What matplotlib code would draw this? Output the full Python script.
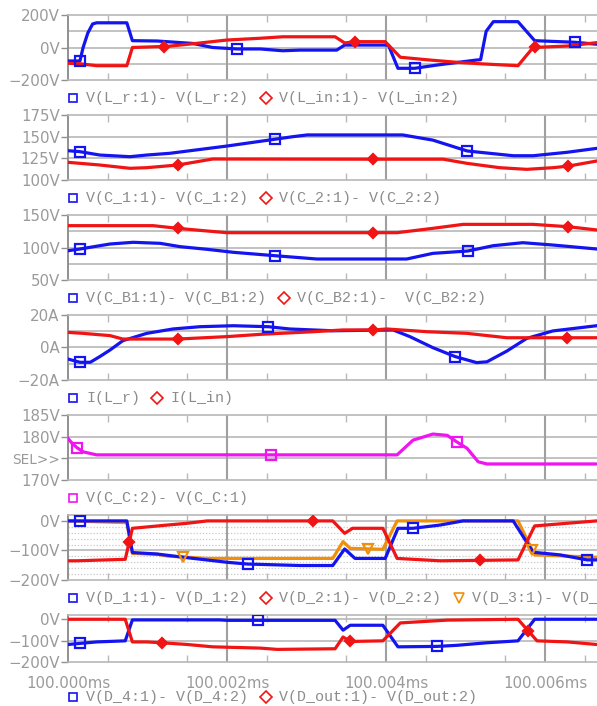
import matplotlib.pyplot as plt
import numpy as np
from matplotlib.lines import Line2D

# time is in microseconds after 100.000 ms
t_max = 6.654

# panel 1: V(L_r), V(L_in)
lr_t = [0.00, 0.15, 0.19, 0.25, 0.31, 0.36, 0.74, 0.81, 1.12, 1.57, 1.82, 2.13, 2.42, 2.70, 2.92,
        3.38, 3.48, 4.03, 4.15, 4.36, 4.64, 4.93, 5.14, 5.19, 5.26, 5.35, 5.66, 5.87, 6.38, 6.65]
lr_v = [-83, -83, 0, 90, 145, 152, 152, 42, 40, 25, 0, -9, -9, -20, -16,
        -16, 15, 15, -128, -128, -108, -90, -77, -75, 100, 159, 159, 42, 32, 20]
lin_t = [0.00, 0.15, 0.36, 0.74, 0.81, 1.12, 1.21, 1.57, 2.00, 2.42, 2.70, 3.36, 3.48, 3.61, 3.99,
         4.18, 4.55, 4.89, 5.22, 5.66, 5.85, 6.28, 6.65]
lin_v = [-97, -100, -112, -112, 0, 5, 5, 23, 46, 57, 66, 66, 28, 36, 36,
         -60, -77, -91, -101, -112, 0, 9, 30]
lr_mk = [0.15, 2.13, 4.36, 6.38]
lin_mk = [1.21, 3.61, 5.87]

# panel 2: V(C_1), V(C_2)
c1_t = [0.00, 0.15, 0.40, 0.78, 0.99, 1.28, 2.00, 2.60, 2.83, 3.01, 4.21, 4.59, 5.02, 5.60, 5.85, 6.28, 6.65]
c1_v = [133.8, 132.7, 128.8, 126.9, 128.8, 130.8, 139.2, 147, 150, 152, 152, 146, 133.5, 128, 128, 132, 136.5]
c2_t = [0.00, 0.40, 0.78, 0.99, 1.38, 1.82, 3.84, 4.72, 5.02, 5.43, 5.77, 6.10, 6.29, 6.65]
c2_v = [120.4, 117.3, 113.5, 114.2, 117.3, 124.2, 124, 124, 119.2, 114.2, 112.3, 114.2, 116, 121.9]
c1_mk = [0.15, 2.60, 5.02]
c2_mk = [1.38, 3.84, 6.29]

# panel 3: V(C_B1), V(C_B2)
cb1_t = [0.00, 0.15, 0.53, 0.82, 1.16, 1.41, 1.75, 2.08, 2.60, 3.13, 4.26, 4.59, 5.03, 5.35, 5.72, 6.10, 6.65]
cb1_v = [95, 97.7, 105.4, 108, 106.4, 101.3, 97.2, 92.6, 87.4, 82.3, 82.3, 91, 94.6, 102.8, 107.4, 103.8, 97.7]
cb2_t = [0.00, 1.07, 1.38, 1.75, 2.00, 4.14, 4.59, 4.97, 5.85, 6.29, 6.65]
cb2_v = [133.6, 133.6, 129.5, 125.4, 122.8, 122.8, 129.5, 135.6, 135.6, 132, 127]
cb1_mk = [0.15, 2.60, 5.03]
cb2_mk = [1.38, 3.84, 6.29]

# panel 4: I(L_r), I(L_in)
ilr_t = [0.00, 0.15, 0.28, 0.40, 0.53, 0.69, 0.99, 1.32, 1.66, 2.08, 2.52, 2.79, 3.33, 4.09, 4.30,
         4.59, 4.87, 5.14, 5.27, 5.52, 5.77, 6.10, 6.65]
ilr_v = [-7.1, -9.1, -9.1, -5.6, -1.5, 4.2, 8.7, 11.4, 12.8, 13.4, 12.8, 11.4, 10.3, 10.8, 6.7,
         -0.1, -5.6, -9.3, -8.8, -2.2, 5.6, 10.2, 13.4]
ilin_t = [0.00, 0.19, 0.53, 0.69, 1.38, 2.00, 2.42, 3.08, 3.46, 3.84, 4.01, 4.52, 5.02, 5.52, 6.65]
ilin_v = [9.3, 8.7, 7.3, 5.2, 5.2, 6.7, 8.1, 9.7, 10.8, 10.8, 11.4, 9.7, 8.7, 6.0, 6.0]
ilr_mk = [0.15, 2.52, 4.87]
ilin_mk = [1.38, 3.84, 6.28]

# panel 5: V(C_C)
cc_t = [0.00, 0.05, 0.11, 0.19, 0.36, 4.14, 4.34, 4.59, 4.77, 4.89, 5.02, 5.16, 5.27, 6.65]
cc_v = [179.6, 178.5, 177.5, 176.5, 175.8, 175.8, 179.2, 180.6, 180.3, 178.8, 177.3, 174.2, 173.7, 173.7]
cc_mk = [0.11, 2.55, 4.89]

# panel 6: V(D_1), V(D_2), V(D_3)
d1_t = [0.00, 0.74, 0.81, 1.12, 1.45, 2.00, 2.26, 2.92, 3.33, 3.48, 3.61, 3.99, 4.15, 4.34, 4.68,
        4.97, 5.60, 5.85, 6.19, 6.53, 6.65]
d1_v = [0, 0, -107, -112, -123, -140, -146, -151, -151, -95, -127, -127, -25, -25, -14,
        0, 0, -106, -115, -132, -132]
d2_t = [0.00, 0.11, 0.72, 0.81, 1.25, 1.50, 1.75, 3.33, 3.48, 3.58, 3.96, 4.14, 4.68, 5.66, 5.87, 6.28, 6.65]
d2_v = [-135, -135, -130, -25, -14, -8, 0, 0, -42, -25, -25, -127, -135, -132, -17, -8, 0]
d3_t = [0.00, 0.74, 0.81, 1.12, 1.25, 1.75, 3.33, 3.46, 3.55, 3.96, 4.14, 5.66, 5.87, 6.65]
d3_v = [0, -6, -110, -113, -119, -127, -127, -70, -93, -96, 0, 0, -115, -123]
d1_mk = [0.15, 2.26, 4.34, 6.53]
d2_mk = [0.77, 3.08, 5.18]
d3_mk = [1.45, 3.77, 5.84]

# panel 7: V(D_4), V(D_out)
d4_t = [0.00, 0.15, 0.36, 0.72, 0.81, 1.91, 2.00, 2.39, 2.92, 3.36, 3.46, 3.55, 3.96, 4.15, 4.64,
        4.89, 5.27, 5.66, 5.87, 6.65]
d4_v = [-118, -113, -106, -101, -3, -3, -5, -5, -5, -5, -51, -28, -28, -129, -127,
        -122, -110, -101, 0, 0]
dout_t = [0.00, 0.72, 0.81, 0.99, 1.18, 1.50, 1.82, 2.42, 2.63, 3.36, 3.46, 3.55, 3.96, 4.18, 4.77,
          5.66, 5.90, 6.28, 6.65]
dout_v = [0, 0, -106, -106, -110, -118, -129, -135, -141, -138, -83, -104, -101, -17, -4,
          0, -101, -106, -118]
d4_mk = [0.15, 2.39, 4.64]
dout_mk = [1.18, 3.55, 5.79]

x_ticks = [0, 2, 4, 6]
x_labels = ["100.000ms", "100.002ms", "100.004ms", "100.006ms"]

BLUE = '#1414f0'
RED = '#f01414'
MAG = '#f014f0'
ORA = '#f0900a'
GRID = '#b8b8b8'
TXT = '#9a9a9a'
LEG = '#8c8c8c'

W, H = 597, 706
fig = plt.figure(figsize=(W / 100, H / 100), dpi=100)

def make_axes(top, bottom, ylim, grid, labels, minor=None):
    ax = fig.add_axes([68 / W, 1 - bottom / H, (W - 68) / W, (bottom - top) / H])
    ax.set_xlim(0, t_max)
    ax.set_ylim(*ylim)
    for s in ['top', 'bottom']:
        ax.spines[s].set_color(GRID)
        ax.spines[s].set_linewidth(1.2)
    ax.spines['left'].set_color('#909090')
    ax.spines['left'].set_linewidth(1.4)
    ax.spines['right'].set_visible(False)
    for g in grid:
        ax.axhline(g, color=GRID, lw=1.2, zorder=1)
    if minor:
        for g in minor:
            ax.axhline(g, color='#c8c8c8', lw=0.9, ls=(0, (1, 1.5)), zorder=1)
    for xv in x_ticks[1:]:
        ax.axvline(xv, color='#a0a0a0', lw=1.5, zorder=1)
    ax.set_yticks(list(labels.keys()))
    ax.set_yticklabels(list(labels.values()))
    ax.tick_params(axis='y', direction='out', length=5, width=1, color='#909090',
                   labelsize=10.8, labelcolor=TXT, pad=1)
    ax.set_xticks(x_ticks)
    ax.set_xticks(np.arange(0.5, t_max, 1.0), minor=True)
    ax.tick_params(axis='x', which='both', direction='in', length=5, width=1, color=GRID,
                   top=True, bottom=True, labelbottom=False)
    ax.tick_params(axis='x', which='major', length=0)
    return ax

def trace(ax, t, v, mk, color, marker, ms, filled=False):
    ax.plot(t, v, color=color, lw=2.3, zorder=3, solid_joinstyle='round')
    ax.plot(mk, np.interp(mk, t, v), ls='none', marker=marker, ms=ms,
            mec=color, mfc=color if filled else 'none', mew=1.6, zorder=4)

def legend(y, items):
    x = 73
    for marker, color, text in items:
        fig.add_artist(Line2D([x / W], [1 - y / H], transform=fig.transFigure, marker=marker,
                              ms=6 if marker == 's' else 6.5, mec=color, mfc='none', mew=1.2, ls='none'))
        fig.text((x + 13) / W, 1 - y / H, text, ha='left', va='center', color=LEG,
                 fontfamily='Liberation Mono', fontsize=10.8)
        x = x + 13 + len(text) * 9.05 + 17

# panel 1
ax1 = make_axes(15, 80, (-200, 200), [-100, 0, 100], {200: '200V', 0: '0V', -200: '\u2212200V'})
trace(ax1, lr_t, lr_v, lr_mk, BLUE, 's', 6.5)
trace(ax1, lin_t, lin_v, lin_mk, RED, 'D', 5, True)
legend(98, [('s', BLUE, 'V(L_r:1)- V(L_r:2)'), ('D', RED, 'V(L_in:1)- V(L_in:2)')])

# panel 2
ax2 = make_axes(115, 180, (100, 175), [125, 150], {175: '175V', 150: '150V', 125: '125V', 100: '100V'})
trace(ax2, c1_t, c1_v, c1_mk, BLUE, 's', 6.5)
trace(ax2, c2_t, c2_v, c2_mk, RED, 'D', 5, True)
legend(198, [('s', BLUE, 'V(C_1:1)- V(C_1:2)'), ('D', RED, 'V(C_2:1)- V(C_2:2)')])

# panel 3
ax3 = make_axes(215, 280, (50, 150), [75, 100, 125], {150: '150V', 100: '100V', 50: '50V'})
trace(ax3, cb1_t, cb1_v, cb1_mk, BLUE, 's', 6.5)
trace(ax3, cb2_t, cb2_v, cb2_mk, RED, 'D', 5, True)
legend(298, [('s', BLUE, 'V(C_B1:1)- V(C_B1:2)'), ('D', RED, 'V(C_B2:1)-  V(C_B2:2)')])

# panel 4
ax4 = make_axes(315, 380, (-20, 20), [-10, 0, 10], {20: '20A', 0: '0A', -20: '\u221220A'})
trace(ax4, ilr_t, ilr_v, ilr_mk, BLUE, 's', 6.5)
trace(ax4, ilin_t, ilin_v, ilin_mk, RED, 'D', 5, True)
legend(398, [('s', BLUE, 'I(L_r)'), ('D', RED, 'I(L_in)')])

# panel 5
ax5 = make_axes(415, 480, (170, 185), [175, 180], {185: '185V', 180: '180V', 175: 'SEL>>', 170: '170V'})
trace(ax5, cc_t, cc_v, cc_mk, MAG, 's', 6.5)
ax5.get_yticklabels()[2].set_fontsize(9.8)
legend(498, [('s', MAG, 'V(C_C:2)- V(C_C:1)')])

# panel 6
ax6 = make_axes(515, 580, (-200, 20), [-100, 0], {0: '0V', -100: '\u2212100V', -200: '\u2212200V'},
                minor=[-180, -160, -140, -120, -80, -60, -40, -20])
trace(ax6, d3_t, d3_v, d3_mk, ORA, 'v', 6.5)
trace(ax6, d1_t, d1_v, d1_mk, BLUE, 's', 6.5)
trace(ax6, d2_t, d2_v, d2_mk, RED, 'D', 5, True)
legend(598, [('s', BLUE, 'V(D_1:1)- V(D_1:2)'), ('D', RED, 'V(D_2:1)- V(D_2:2)'),
             ('v', ORA, 'V(D_3:1)- V(D_3:2)')])

# panel 7
ax7 = make_axes(615, 662, (-200, 20), [-100, 0], {0: '0V', -100: '\u2212100V', -200: '\u2212200V'})
trace(ax7, d4_t, d4_v, d4_mk, BLUE, 's', 6.5)
trace(ax7, dout_t, dout_v, dout_mk, RED, 'D', 5, True)
ax7.set_xticklabels(x_labels)
ax7.tick_params(axis='x', which='major', labelbottom=True, labelsize=10.8, labelcolor=TXT, pad=10)
legend(697, [('s', BLUE, 'V(D_4:1)- V(D_4:2)'), ('D', RED, 'V(D_out:1)- V(D_out:2)')])

fig.savefig('out.png', dpi=100)
